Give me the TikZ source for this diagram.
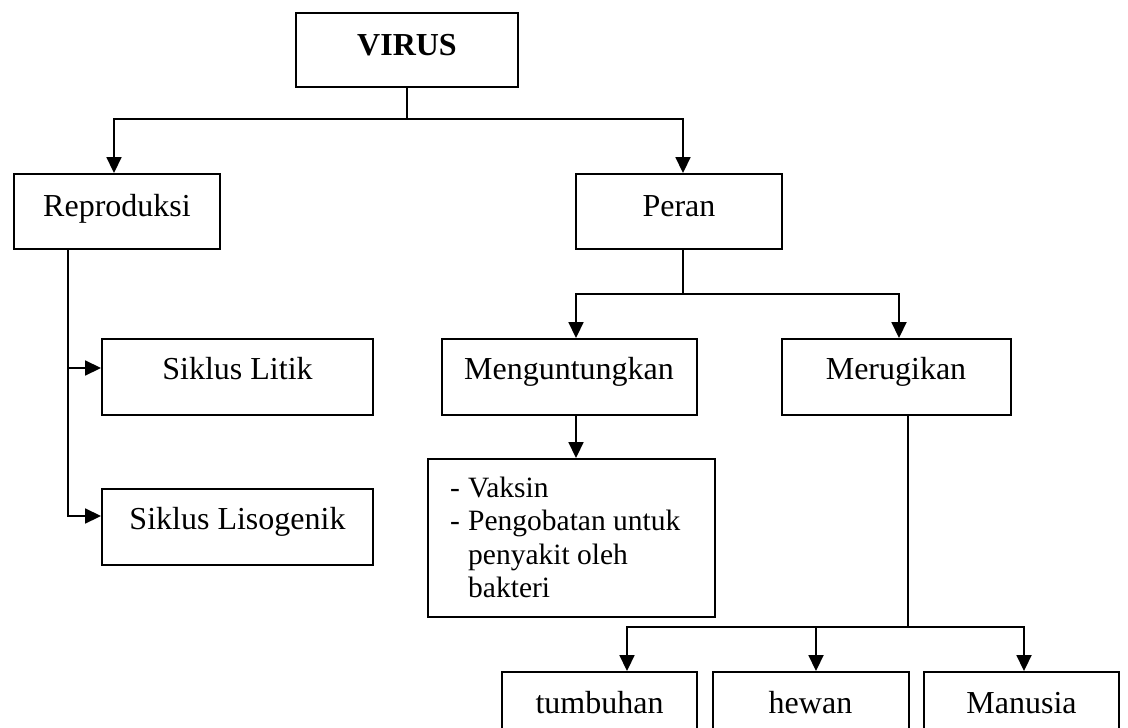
\documentclass[tikz,border=0pt]{standalone}
\usepackage{fontspec}
\setmainfont{Liberation Serif}
\usetikzlibrary{arrows.meta}
\begin{document}
\begin{tikzpicture}[x=1pt,y=-1pt,
  box/.style={draw, line width=1.9pt, inner sep=0pt},
  lbl/.style={anchor=base, inner sep=0pt, font=\fontsize{32}{33.5}\selectfont},
  arr/.style={line width=1.8pt, -{Triangle[length=16pt,width=15pt]}},
  stem/.style={line width=1.5pt}]
\useasboundingbox (0,0) rectangle (1128,728);
\clip (0,0) rectangle (1128,728);
\fill[white] (0,0) rectangle (1128,728);
% boxes
\node[box, minimum width=222pt, minimum height=74pt] (virus) at (407,50) {};
\node[box, minimum width=206pt, minimum height=75pt] (rep) at (117,211.5) {};
\node[box, minimum width=206pt, minimum height=75pt] (peran) at (679,211.5) {};
\node[box, minimum width=271pt, minimum height=76pt] (lit) at (237.5,377) {};
\node[box, minimum width=271pt, minimum height=76pt] (lis) at (237.5,527) {};
\node[box, minimum width=255pt, minimum height=76pt] (meng) at (569.5,377) {};
\node[box, minimum width=229pt, minimum height=76pt] (merug) at (896.5,377) {};
\node[box, minimum width=287pt, minimum height=158pt] (vak) at (571.5,538) {};
\node[box, minimum width=195pt, minimum height=100pt] (tum) at (599.5,722) {};
\node[box, minimum width=196pt, minimum height=100pt] (hew) at (811,722) {};
\node[box, minimum width=195pt, minimum height=100pt] (man) at (1021.5,722) {};
% labels
\node[lbl] (tvirus) at (407,55) {\bfseries VIRUS};
\node[lbl] (trep) at (117,216) {Reproduksi};
\node[lbl] (tperan) at (679,216) {Peran};
\node[lbl] (tlit) at (237.5,379) {Siklus Litik};
\node[lbl] (tlis) at (237.5,529) {Siklus Lisogenik};
\node[lbl] (tmeng) at (569,379) {Menguntungkan};
\node[lbl] (tmerug) at (896,379) {Merugikan};
\node[lbl, anchor=base west, font=\fontsize{29.5}{33.5}\selectfont] (tvak) at (450,497) {\begin{tabular}[t]{@{}l@{}l@{}}
\makebox[18pt][l]{-} & Vaksin\\
\makebox[18pt][l]{-} & Pengobatan untuk\\
 & penyakit oleh\\
 & bakteri
\end{tabular}};
\node[lbl] (ttum) at (599.5,713) {tumbuhan};
\node[lbl] (thew) at (810.5,713) {hewan};
\node[lbl] (tman) at (1021.5,713) {Manusia};
% connectors
\coordinate (j1) at (407,119);
\draw[stem] (virus) -- (j1);
\draw[arr] (j1) -| (114,0 |- rep.north);
\draw[arr] (j1) -| (683,0 |- peran.north);
\draw[arr] (68,0 |- rep.south) |- (lis.west |- 0,516);
\coordinate (j5) at (68,368);
\draw[arr] (j5) -- (lit.west |- j5);
\coordinate (j2) at (683,294);
\draw[stem] (683,0 |- peran.south) -- (j2);
\draw[arr] (j2) -| (576,0 |- meng.north);
\draw[arr] (j2) -| (899,0 |- merug.north);
\draw[arr] (576,0 |- meng.south) -- (576,0 |- vak.north);
\coordinate (j3) at (908,627);
\draw[stem] (908,0 |- merug.south) -- (j3);
\draw[arr] (j3) -| (627,0 |- tum.north);
\draw[arr] (j3) -| (1024,0 |- man.north);
\coordinate (j4) at (816,627);
\draw[arr] (j4) -- (816,0 |- hew.north);
\end{tikzpicture}
\end{document}
